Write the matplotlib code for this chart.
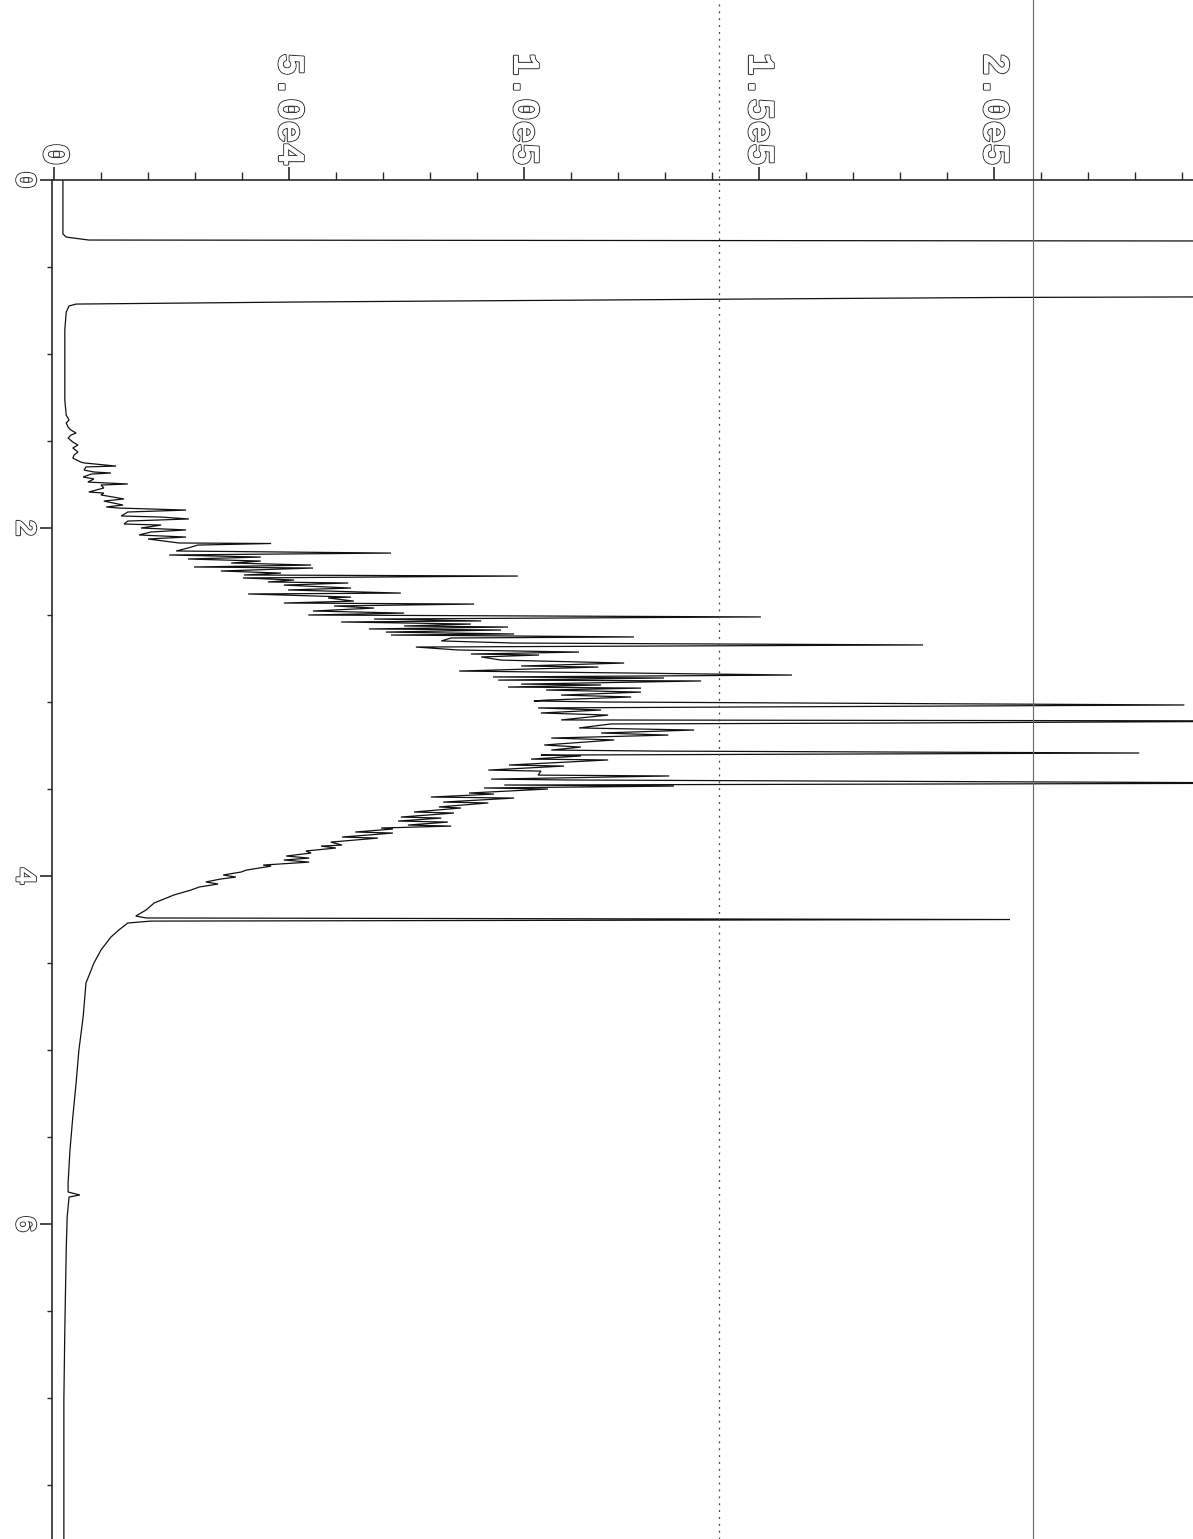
import matplotlib
matplotlib.use("Agg")
import matplotlib.pyplot as plt
import matplotlib.patheffects as pe
from matplotlib.ticker import MultipleLocator

# ---------------- data ----------------
# retention time in minutes (vertical axis, increasing downward)
time_min = [
    0.000, 0.310, 0.328, 0.345, 0.351, 0.670, 0.675, 0.684, 0.701, 0.713,
    0.724, 0.759, 0.862, 1.034, 1.264, 1.351, 1.379, 1.397, 1.420, 1.437,
    1.454, 1.466, 1.483, 1.506, 1.523, 1.540, 1.563, 1.580, 1.598, 1.621,
    1.626, 1.644, 1.649, 1.667, 1.678, 1.684, 1.690, 1.707, 1.718, 1.736,
    1.747, 1.753, 1.770, 1.793, 1.799, 1.810, 1.833, 1.845, 1.868, 1.879,
    1.885, 1.897, 1.908, 1.931, 1.937, 1.948, 1.960, 1.977, 1.983, 2.000,
    2.011, 2.023, 2.040, 2.052, 2.063, 2.086, 2.089, 2.098, 2.115, 2.132,
    2.144, 2.155, 2.167, 2.178, 2.190, 2.201, 2.213, 2.224, 2.230, 2.247,
    2.259, 2.270, 2.276, 2.287, 2.299, 2.310, 2.316, 2.328, 2.345, 2.356,
    2.374, 2.379, 2.397, 2.402, 2.420, 2.431, 2.437, 2.448, 2.460, 2.477,
    2.489, 2.500, 2.511, 2.523, 2.534, 2.540, 2.552, 2.563, 2.569, 2.580,
    2.586, 2.598, 2.609, 2.615, 2.626, 2.632, 2.649, 2.661, 2.672, 2.684,
    2.701, 2.713, 2.724, 2.730, 2.741, 2.759, 2.776, 2.793, 2.799, 2.822,
    2.833, 2.845, 2.856, 2.862, 2.874, 2.879, 2.897, 2.902, 2.914, 2.920,
    2.931, 2.943, 2.960, 2.971, 2.989, 2.994, 3.000, 3.017, 3.034, 3.046,
    3.063, 3.075, 3.103, 3.109, 3.121, 3.126, 3.149, 3.161, 3.178, 3.190,
    3.207, 3.218, 3.247, 3.259, 3.276, 3.282, 3.293, 3.305, 3.310, 3.328,
    3.333, 3.362, 3.368, 3.391, 3.397, 3.420, 3.425, 3.443, 3.448, 3.466,
    3.477, 3.483, 3.494, 3.500, 3.523, 3.529, 3.546, 3.552, 3.575, 3.580,
    3.603, 3.609, 3.632, 3.638, 3.661, 3.667, 3.684, 3.690, 3.707, 3.713,
    3.724, 3.730, 3.747, 3.753, 3.776, 3.782, 3.805, 3.822, 3.828, 3.839,
    3.856, 3.868, 3.885, 3.897, 3.908, 3.920, 3.937, 3.943, 3.966, 3.977,
    3.994, 4.006, 4.017, 4.034, 4.046, 4.063, 4.080, 4.109, 4.155, 4.195,
    4.230, 4.241, 4.250, 4.259, 4.270, 4.310, 4.351, 4.425, 4.500, 4.615,
    4.810, 5.000, 5.190, 5.385, 5.575, 5.764, 5.816, 5.833, 5.845, 5.960,
    6.149, 6.609, 7.011, 7.810,
]
# detector response (counts, horizontal axis)
signal = [
    1900, 1900, 2600, 7400, 270000, 270000, 201500, 148300, 52600, 4700,
    3200, 2600, 2300, 2300, 2300, 2600, 3200, 2600, 3000, 3600,
    4700, 3600, 3000, 4000, 5100, 4000, 5100, 4300, 4000, 5700,
    6400, 13200, 6800, 6400, 8500, 12100, 7900, 6200, 8500, 7200,
    15700, 10000, 10600, 7400, 10600, 10000, 14900, 10600, 14700, 11100,
    13600, 28100, 15700, 14300, 22800, 28700, 15700, 14900, 22800, 18500,
    28100, 20600, 18100, 28100, 20000, 26600, 46200, 30600, 28500, 26000,
    71700, 24500, 44000, 28500, 44000, 37700, 54700, 29800, 55100, 35500,
    48300, 40400, 98700, 40200, 51100, 45500, 62600, 48900, 63200, 49800,
    73800, 41300, 63200, 58300, 63800, 48900, 89400, 59600, 68100, 55100,
    74500, 54100, 150400, 68100, 90900, 61100, 88700, 74500, 96600, 67000,
    95100, 70600, 97900, 71700, 123400, 84500, 82400, 97900, 184900, 77000,
    86000, 111700, 88700, 103200, 90900, 95100, 121300, 99400, 115800, 86200,
    121300, 157000, 93400, 129800, 94500, 137700, 99400, 116400, 96600, 124900,
    104700, 124900, 107900, 122800, 104700, 102100, 117900, 240500, 103000, 116400,
    103600, 117900, 107900, 270000, 176200, 118500, 111700, 136200, 116400, 130700,
    105800, 119200, 104300, 112100, 105800, 128500, 230900, 103600, 112100, 101500,
    117900, 96800, 108500, 92400, 103600, 103000, 130900, 93000, 109400, 270000,
    95800, 131900, 91500, 105100, 88300, 93600, 80200, 97900, 82800, 92400,
    81900, 86600, 76600, 85100, 73800, 82400, 73200, 83800, 75300, 84500,
    69600, 72100, 64100, 72100, 61300, 68900, 58900, 61300, 56800, 60000,
    53600, 54700, 49400, 54300, 48900, 54300, 44500, 46200, 40900, 39800,
    36000, 38700, 35500, 32300, 34900, 30900, 29200, 25500, 21300, 19600,
    17400, 19600, 203400, 20600, 15700, 13800, 12100, 10000, 8500, 6800,
    6200, 5300, 4700, 4000, 3400, 3000, 3000, 5500, 3200, 2800,
    2600, 2300, 2100, 2100,
]

x_ticks = [0, 50000, 100000, 150000, 200000]
x_tick_labels = ["0", "5.0e4", "1.0e5", "1.5e5", "2.0e5"]
y_ticks = [0, 2, 4, 6]
y_tick_labels = ["0", "2", "4", "6"]
# paper fold / scan lines visible on the printout (signal units)
fold_dotted = 141500
fold_solid = 208300

# ---------------- figure ----------------
plt.rcParams["font.family"] = ["Liberation Mono", "DejaVu Sans Mono"]

W, H = 1193, 1539
fig = plt.figure(figsize=(W / 100, H / 100), dpi=100)
ax = fig.add_axes([52 / W, 0.0, 1 - 52 / W, 1359 / H])

ax.plot(signal, time_min, color="#111111", lw=0.9, solid_joinstyle="miter")

ax.set_xlim(-425, 242340)
ax.set_ylim(7.81, 0)

for s in ("right", "bottom"):
    ax.spines[s].set_visible(False)
for s in ("left", "top"):
    ax.spines[s].set_color("#2a2a2a")
    ax.spines[s].set_linewidth(1.2)

ax.xaxis.tick_top()
ax.set_xticks(x_ticks, x_tick_labels)
ax.xaxis.set_minor_locator(MultipleLocator(10000))
ax.set_yticks(y_ticks, y_tick_labels)
ax.yaxis.set_minor_locator(MultipleLocator(0.5))

px = 0.72  # points per pixel at 100 dpi
ax.tick_params(axis="x", which="major", direction="out", length=13 * px, width=1.2,
               color="#2a2a2a", pad=1, labelsize=27, labelrotation=-90)
ax.tick_params(axis="x", which="minor", direction="out", length=8 * px, width=1.0,
               color="#2a2a2a")
ax.tick_params(axis="y", which="major", direction="out", length=12 * px, width=1.2,
               color="#2a2a2a", pad=1, labelsize=21, labelrotation=-90)
ax.tick_params(axis="y", which="minor", direction="out", length=5 * px, width=1.0,
               color="#2a2a2a")

outline = [pe.withStroke(linewidth=1.6, foreground="#3a3a3a"), pe.Normal()]
for lbl in ax.get_xticklabels() + ax.get_yticklabels():
    lbl.set_color("white")
    lbl.set_fontweight("bold")
    lbl.set_path_effects(outline)
for lbl in ax.get_yticklabels():
    lbl.set_verticalalignment("center")

# fold / scan lines running the full page height
ymax_fig = 1 + 180 / 1359
ax.axvline(fold_dotted, ymin=0, ymax=ymax_fig, clip_on=False, color="#444444",
           lw=0.9, ls=(0, (1.5, 4)))
ax.axvline(fold_solid, ymin=0, ymax=ymax_fig, clip_on=False, color="#666666",
           lw=0.8, ls="-")

fig.savefig("out.png", dpi=100)
